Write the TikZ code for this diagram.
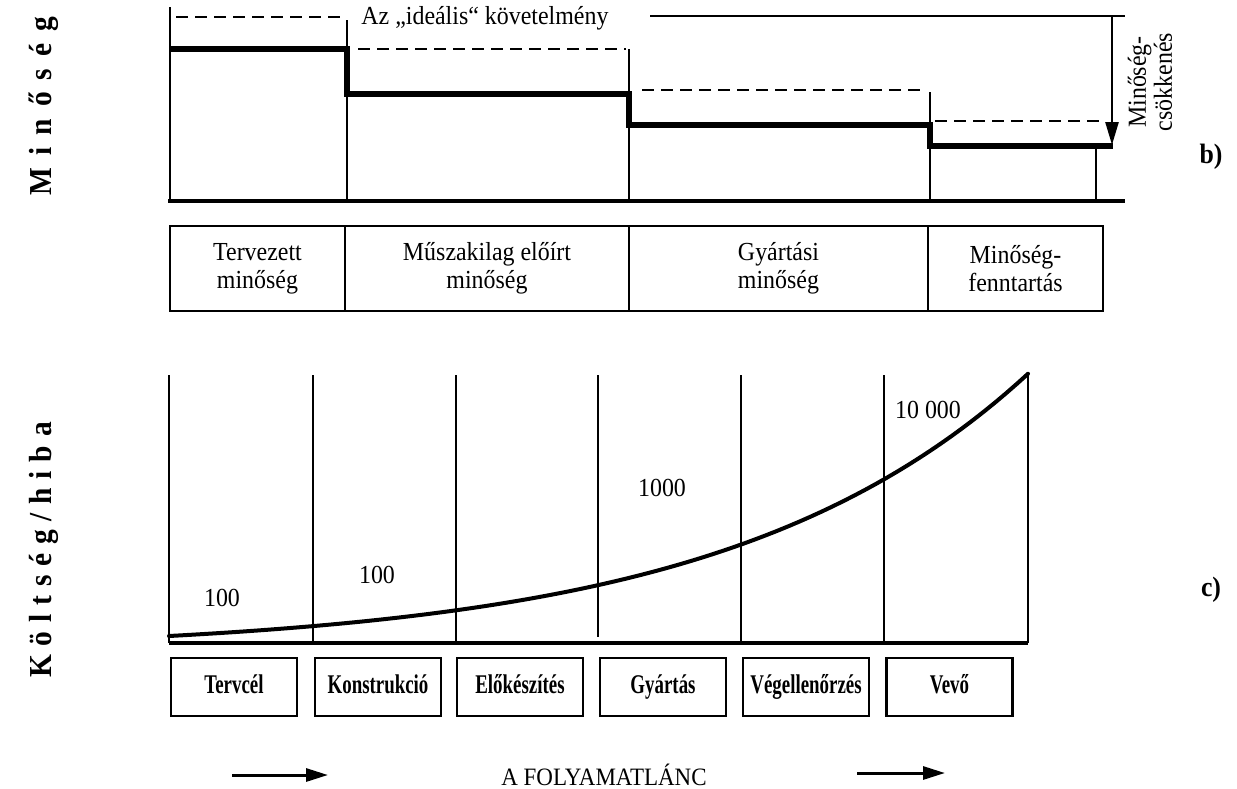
\documentclass[tikz,border=0pt]{standalone}
\usepackage{fontspec}
\usepackage{graphicx}
\setmainfont{Liberation Serif}[FakeStretch=0.92]
\newfontfamily\stagefont{Liberation Serif}[FakeStretch=0.7]
\usetikzlibrary{arrows.meta}
\newcommand{\qgap}{\hspace{6pt}}
\newcommand{\cgap}{\hspace{4.4pt}}
\begin{document}
\begin{tikzpicture}[x=0.5pt,y=-0.5pt,
  rule/.style={line width=1.25pt},
  baseline rule/.style={line width=1.6pt},
  stepline/.style={line width=2.7pt, line join=miter},
  ideal/.style={line width=1.3pt, dash pattern=on 6pt off 3.5pt},
  txt/.style={inner sep=0pt, align=center, font=\fontsize{13pt}{14pt}\selectfont},
  cell/.style={draw, line width=1.1pt, minimum height=42.5pt, inner sep=0pt,
    align=center, font=\fontsize{13pt}{14pt}\selectfont},
  stage/.style={draw, line width=1.1pt, minimum width=63pt, minimum height=29pt,
    inner sep=0pt, text height=9.5pt, text depth=3pt,
    font=\stagefont\bfseries\fontsize{13.5pt}{14pt}\selectfont},
  axislbl/.style={rotate=90, inner sep=0pt, font=\bfseries\fontsize{16pt}{18pt}\selectfont},
  panel/.style={inner sep=0pt, font=\bfseries\fontsize{14pt}{16pt}\selectfont},
  flow/.style={line width=1.5pt, -{Triangle[length=11pt,width=6.5pt]}}]

\fill[white] (0,0) rectangle (1237,788);
\useasboundingbox (0,0) rectangle (1237,788);

% ---------- panel b: quality along the chain ----------
\node[axislbl] (qaxis) at (44,106) {M\qgap i\qgap n\qgap ő\qgap s\qgap é\qgap g};

\draw[baseline rule] (168,201) -- (1125,201);
\draw[rule] (170,7) -- (170,201);
\draw[rule] (347,20) -- (347,201);
\draw[rule] (629,49) -- (629,201);
\draw[rule] (930,92) -- (930,201);
\draw[rule] (1096,146) -- (1096,201);

% achieved quality (step line)
\draw[stepline] (170,49) -- (347,49) -- (347,94) -- (629,94) -- (629,125)
  -- (930,125) -- (930,146) -- (1113,146);

% ideal requirement
\draw[ideal] (176,17) -- (345,17);
\node[txt, anchor=west] (ideal) at (361,18) {Az „ideális“ követelmény};
\draw[rule] (650,16) -- (1125,16);
\draw[ideal] (358,49) -- (626,49);
\draw[ideal] (642,90) -- (926,90);
\draw[ideal] (935,121) -- (1106,121);

% quality loss
\coordinate (losstop) at (1112,16);
\coordinate (lossbot) at (1112,145);
\draw[rule, -{Triangle[length=11.5pt,width=6.5pt]}] (losstop) -- (lossbot);
\node[txt, rotate=90, font=\fontsize{13pt}{13pt}\selectfont] (loss) at (1150,82) {Minőség-\\csökkenés};

\node[panel] (pb) at (1211,157) {b)};

% quality categories
\node[cell, minimum width=87.5pt] (c1) at (257.5,268.5) {Tervezett\\minőség};
\node[cell, minimum width=142pt] (c2) at (487,268.5) {Műszakilag előírt\\minőség};
\node[cell, minimum width=149.5pt] (c3) at (778.5,268.5) {Gyártási\\minőség};
\node[cell, minimum width=87.5pt] (c4) at (1015.5,268.5) {Minőség-\\fenntartás};

% ---------- panel c: cost per defect ----------
\node[axislbl] (caxis) at (44,550) {K\cgap ö\cgap l\cgap t\cgap s\cgap é\cgap g\cgap /\cgap h\cgap i\cgap b\cgap a};

\draw[baseline rule] (169,643) -- (1028,643);
\draw[rule] (169,375) -- (169,643);
\draw[rule] (313,375) -- (313,643);
\draw[rule] (456,375) -- (456,643);
\draw[rule] (598,375) -- (598,637);
\draw[rule] (741,375) -- (741,643);
\draw[rule] (884,375) -- (884,643);
\draw[rule] (1028,374) -- (1028,643);

% cost of a defect, growing along the chain
\draw[line width=2pt, line cap=round] plot[domain=0:859, samples=80]
  ({169+\x}, {643-(16.2*exp(0.003312*\x)-9.2)});

\node[txt] (v1) at (222,598) {100};
\node[txt] (v2) at (377,575) {100};
\node[txt] (v3) at (662,488) {1000};
\node[txt] (v4) at (928,410) {10 000};

\node[panel] (pc) at (1211,590) {c)};

% process stages
\node[stage] (s1) at (234,687) {Tervcél};
\node[stage] (s2) at (378,687) {Konstrukció};
\node[stage] (s3) at (520,687) {Előkészítés};
\node[stage] (s4) at (663,687) {Gyártás};
\node[stage] (s5) at (806,687) {Végellenőrzés};
\node[stage] (s6) at (949.5,687) {Vevő};

% process chain
\coordinate (fa1) at (232,775);
\coordinate (fa2) at (328,775);
\coordinate (fb1) at (857,773);
\coordinate (fb2) at (945,773);
\draw[flow] (fa1) -- (fa2);
\node[txt, font=\fontsize{12.5pt}{13pt}\selectfont] (chain) at (604,775) {A FOLYAMATLÁNC};
\draw[flow] (fb1) -- (fb2);

\end{tikzpicture}
\end{document}
